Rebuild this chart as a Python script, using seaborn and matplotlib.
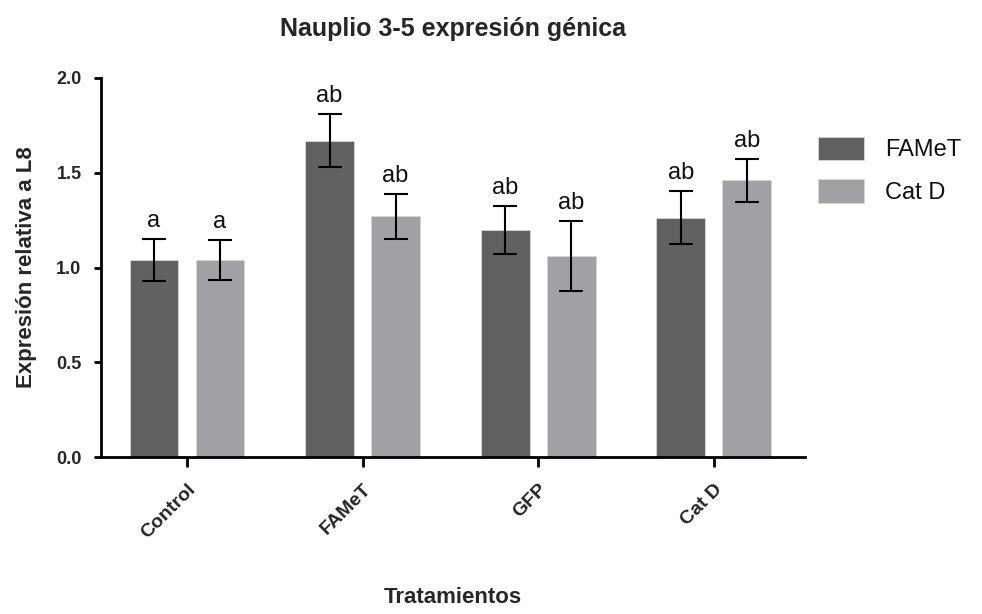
import matplotlib
matplotlib.use("Agg")
import matplotlib.pyplot as plt
import seaborn as sns
import pandas as pd
import numpy as np

# ---- data ----
categories = ["Control", "FAMeT", "GFP", "Cat D"]
series_names = ["FAMeT", "Cat D"]
famet_means = [1.04, 1.67, 1.196, 1.263]
famet_err = [0.11, 0.142, 0.127, 0.139]
catd_means = [1.04, 1.27, 1.06, 1.46]
catd_err = [0.105, 0.12, 0.185, 0.113]
famet_letters = ["a", "ab", "ab", "ab"]
catd_letters = ["a", "ab", "ab", "ab"]
yticks = [0.0, 0.5, 1.0, 1.5, 2.0]

df = pd.DataFrame({
    "Tratamiento": categories * 2,
    "Serie": [series_names[0]] * 4 + [series_names[1]] * 4,
    "valor": famet_means + catd_means,
})
errs = {series_names[0]: famet_err, series_names[1]: catd_err}
letters = {series_names[0]: famet_letters, series_names[1]: catd_letters}

sns.set_theme(style="white")
plt.rcParams["font.family"] = ["Liberation Sans", "DejaVu Sans"]

fig = plt.figure(figsize=(9.82, 6.14), dpi=100)
ax = fig.add_axes([101 / 982, 1 - 457 / 614, (805 - 101) / 982, (457 - 78) / 614])

palette = {series_names[0]: "#616161", series_names[1]: "#a1a1a5"}
sns.barplot(data=df, x="Tratamiento", y="valor", hue="Serie", order=categories,
            hue_order=series_names, palette=palette, errorbar=None, width=0.752,
            gap=0.26, saturation=1, edgecolor="#d8d8d8", linewidth=0.6, ax=ax)

# error bars and letters at the seaborn bar positions
bar_containers = list(ax.containers)
for ci, cont in enumerate(bar_containers):
    name = series_names[ci]
    for j, bar in enumerate(cont):
        xc = bar.get_x() + bar.get_width() / 2
        h = bar.get_height()
        e = errs[name][j]
        ax.errorbar(xc, h, yerr=e, fmt="none", ecolor="black", elinewidth=1.5,
                    capsize=8.5, capthick=1.5, zorder=5)
        ax.annotate(letters[name][j], (xc, h + e), xytext=(0, 5),
                    textcoords="offset points", ha="center", va="bottom",
                    fontsize=17, color="#111111")

ax.set_ylim(0, 2.0)
ax.set_xlim(-0.49, 3.52)
ax.set_yticks(yticks)
ax.set_yticklabels([f"{v:.1f}" for v in yticks], fontsize=13, fontweight="bold")
ax.set_xticks(range(len(categories)))
ax.set_xticklabels(categories, rotation=45, ha="right", rotation_mode="anchor",
                   fontsize=14, fontweight="bold")
sns.despine(ax=ax)
for s in ["left", "bottom"]:
    ax.spines[s].set_linewidth(2)
    ax.spines[s].set_color("black")
ax.tick_params(axis="y", direction="out", length=5, width=2, color="black",
               left=True, pad=9)
ax.tick_params(axis="x", direction="out", length=7, width=2, color="black",
               bottom=True, pad=10)

ax.set_ylabel("Expresión relativa a L8", fontsize=16, fontweight="bold", labelpad=14)
ax.set_xlabel("Tratamientos", fontsize=16, fontweight="bold", labelpad=33)
ax.set_title("Nauplio 3-5 expresión génica", fontsize=18, fontweight="bold", pad=30)

leg = ax.legend(loc="upper left", bbox_to_anchor=(1.005, 0.87), frameon=False,
                fontsize=17, handlelength=1.95, handleheight=1.15, labelspacing=0.75,
                handletextpad=0.9, borderaxespad=0)
for t in leg.get_texts():
    t.set_color("#111111")

fig.savefig("out.png", dpi=100)
